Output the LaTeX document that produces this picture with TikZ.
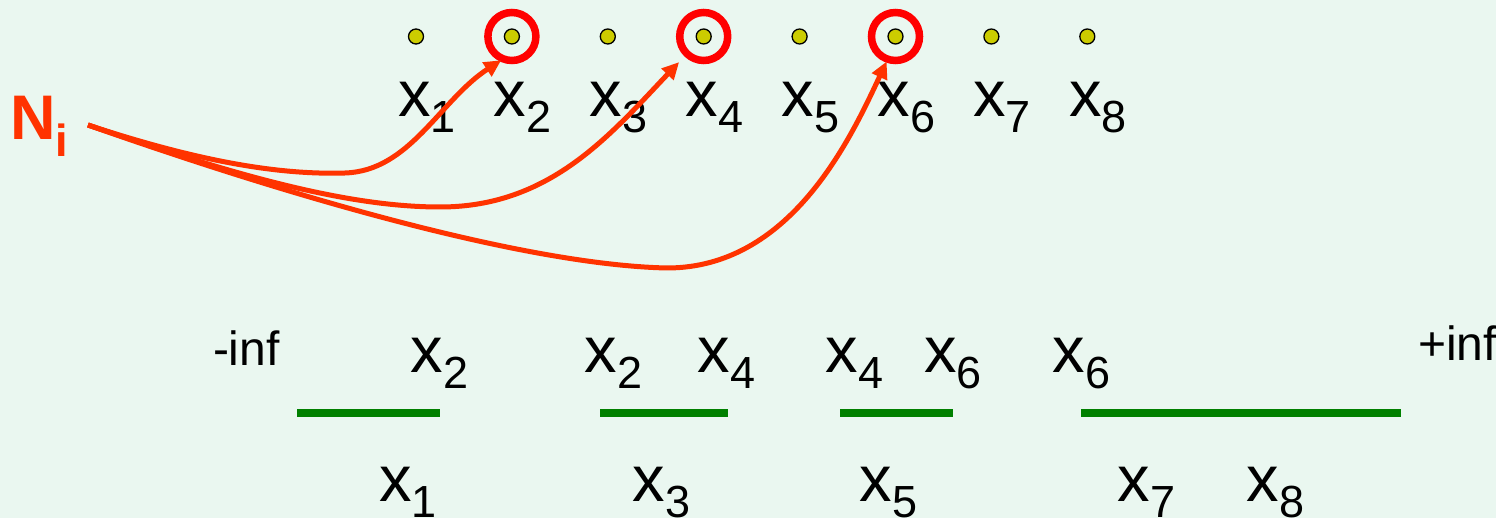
\documentclass[tikz,border=0pt]{standalone}
\usepackage{fontspec}
\setmainfont{Liberation Sans}
\usetikzlibrary{arrows.meta}
\definecolor{bgc}{RGB}{234,247,240}
\definecolor{arrc}{RGB}{255,51,0}
\definecolor{ringc}{RGB}{255,0,0}
\definecolor{dotc}{RGB}{204,204,0}
\definecolor{segc}{RGB}{0,128,0}
\newcommand{\xsub}[1]{x\raisebox{-16pt}{\fontsize{45}{45}\selectfont #1}}
\begin{document}
\begin{tikzpicture}[x=1pt,y=-1pt,
  dot/.style={circle,draw=black,line width=1.3pt,fill=dotc,minimum size=15pt,inner sep=0pt},
  ring/.style={circle,draw=ringc,line width=7.5pt,minimum size=48pt,inner sep=0pt,outer sep=0pt},
  lbl/.style={anchor=base west,inner sep=0pt,outer sep=0pt,font=\fontsize{65}{65}\selectfont},
  inflbl/.style={anchor=base west,inner sep=0pt,outer sep=0pt,font=\fontsize{48}{48}\selectfont},
  seg/.style={draw=segc,line width=8pt},
  arr/.style={draw=arrc,line width=5pt,-{Triangle[length=17pt,width=16pt]}}]
\fill[bgc] (0,0) rectangle (1496,518);
\useasboundingbox (0,0) rectangle (1496,518);

% top row of points
\foreach \i in {1,...,8}{
  \node[dot] (d\i) at ({416+95.9*(\i-1)},36.5) {};
  \node[lbl] (t\i) at ({416+95.9*(\i-1)-18},117) {\xsub{\i}};
}
\node[ring] (r2) at (d2) {};
\node[ring] (r4) at (d4) {};
\node[ring] (r6) at (d6) {};

% N_i
\node[anchor=base west,inner sep=0pt,text=arrc,font=\bfseries\fontsize{63}{63}\selectfont] (ni) at (10,140) {N\raisebox{-17pt}{\fontsize{45}{45}\selectfont i}};
\coordinate (niout) at (88,125);

% arrows
\draw[arr,shorten >=2.5pt] (niout) .. controls (200,162) and (280,175) .. (345,173)
   .. controls (410,171) and (440,100) .. (r2.249);
\draw[arr,shorten >=11.5pt] (niout) .. controls (220,170) and (340,207) .. (440,207)
   .. controls (550,207) and (610,135) .. (r4.226);
\draw[arr,shorten >=2.5pt] (niout) .. controls (300,200) and (530,265) .. (667,268)
   .. controls (790,268) and (850,140) .. (r6.251);

% intervals
\node[inflbl] (minf) at (213,366) {-inf};
\node[inflbl] (pinf) at (1418,360) {+inf};

\node[lbl] (a1) at (410.5,373) {\xsub{2}};
\node[lbl] (a2) at (584.5,373) {\xsub{2}};
\node[lbl] (a3) at (697.5,373) {\xsub{4}};
\node[lbl] (a4) at (825.5,373) {\xsub{4}};
\node[lbl] (a5) at (924,373) {\xsub{6}};
\node[lbl] (a6) at (1052.5,373) {\xsub{6}};

\draw[seg] (297,413) -- (440,413);
\draw[seg] (600,413) -- (728,413);
\draw[seg] (840,413) -- (953,413);
\draw[seg] (1081,413) -- (1401,413);

\node[lbl] (b1) at (379,501) {\xsub{1}};
\node[lbl] (b3) at (632.5,501) {\xsub{3}};
\node[lbl] (b5) at (859.5,501) {\xsub{5}};
\node[lbl] (b7) at (1117.5,501) {\xsub{7}};
\node[lbl] (b8) at (1246.5,501) {\xsub{8}};
\end{tikzpicture}
\end{document}
